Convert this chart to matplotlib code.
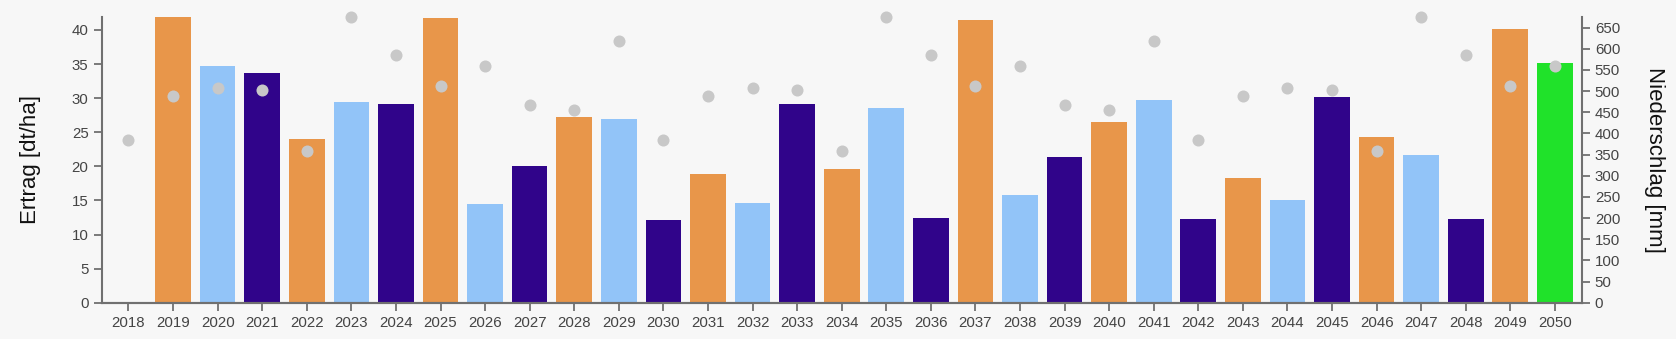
import numpy as np
import matplotlib.pyplot as plt

years = list(range(2018, 2051))
# Ertrag [dt/ha]; 2018 has no bar
ertrag = [0, 41.9, 34.7, 33.7, 24.0, 29.5, 29.1, 41.7, 14.5, 20.0, 27.2,
          26.9, 12.1, 18.9, 14.6, 29.1, 19.6, 28.5, 12.4, 41.4, 15.8,
          21.3, 26.5, 29.7, 12.3, 18.3, 15.0, 30.1, 24.3, 21.6, 12.3,
          40.2, 35.1]
# Niederschlag [mm]
niederschlag = [385, 488, 507, 503, 358, 674, 585, 512, 560, 467, 455,
                618, 385, 488, 507, 503, 358, 674, 585, 512, 560, 467,
                455, 618, 385, 488, 507, 503, 358, 674, 585, 512, 560]
# bar category: o = orange, l = light blue, d = dark, g = green (2050)
kategorie = ['o', 'o', 'l', 'd', 'o', 'l', 'd', 'o', 'l', 'd', 'o',
             'l', 'd', 'o', 'l', 'd', 'o', 'l', 'd', 'o', 'l', 'd',
             'o', 'l', 'd', 'o', 'l', 'd', 'o', 'l', 'd', 'o', 'g']

farben = {'o': '#E8964A', 'l': '#92C4F8', 'd': '#30048A', 'g': '#20E22A'}
bg = '#F7F7F7'
grau = '#707070'

plt.rcParams['font.family'] = ['Liberation Sans', 'DejaVu Sans']

fig = plt.figure(figsize=(16.76, 3.39), dpi=100, facecolor=bg)
ax = fig.add_axes([0.0607, 0.107, 0.883, 0.843])
ax.set_facecolor(bg)
x = np.arange(len(years))

cols = [farben[k] for k in kategorie]
ax.bar(x[1:], ertrag[1:], width=0.8, color=cols[1:], zorder=2)

ax.set_xlim(-0.6, len(years) - 0.4)
ax.set_ylim(0, 41.9)
ax.set_yticks(range(0, 41, 5))
ax.set_xticks(x)
ax.set_xticklabels([str(y) for y in years])

ax2 = ax.twinx()
ax2.set_ylim(0, 675)
ax2.set_yticks(range(0, 651, 50))
ax2.scatter(x, niederschlag, s=75, color='#C8C8C8', zorder=3, linewidths=0,
            clip_on=False)

for a in (ax, ax2):
    a.spines['top'].set_visible(False)
    for s in ('left', 'right', 'bottom'):
        a.spines[s].set_color(grau)
        a.spines[s].set_linewidth(1.5)
    a.tick_params(colors=grau, labelcolor='#444444', labelsize=10.8,
                  length=6, width=1.3)
ax.spines['right'].set_visible(False)
ax2.spines['left'].set_visible(False)

ax.set_ylabel('Ertrag [dt/ha]', fontsize=16, color='#111111', labelpad=22)
ax2.set_ylabel('Niederschlag [mm]', fontsize=16, color='#111111',
               rotation=270, labelpad=32)

fig.savefig('out.png', dpi=100, facecolor=bg)
